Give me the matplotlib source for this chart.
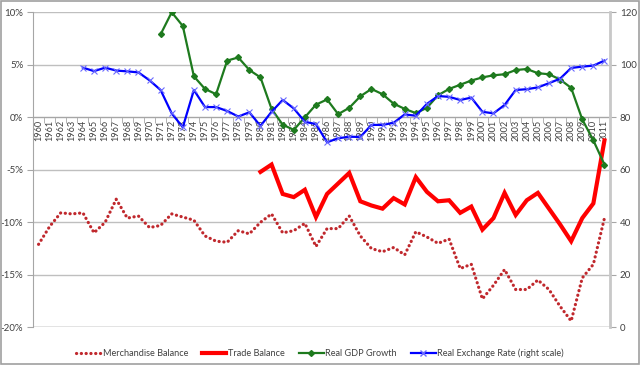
import matplotlib
matplotlib.use("Agg")
import matplotlib.pyplot as plt
from matplotlib.patches import Rectangle
from matplotlib.lines import Line2D
import numpy as np

years = [str(y) for y in range(1960, 2012)]

merch_balance = [-12.1, -10.4, -9.1, -9.2, -9.1, -11.0, -10.0, -7.8, -9.6, -9.4,
                 -10.5, -10.3, -9.2, -9.5, -9.8, -11.3, -11.8, -11.9, -10.8, -11.1,
                 -10.0, -9.2, -11.0, -10.8, -10.1, -12.3, -10.6, -10.6, -9.4, -11.3,
                 -12.5, -12.8, -12.4, -13.1, -10.9, -11.4, -12.0, -11.6, -14.4, -14.0,
                 -17.3, -16.0, -14.5, -16.4, -16.4, -15.5, -16.4, -18.0, -19.4, -15.3,
                 -14.0, -9.6]

trade_years = list(range(1980, 2012))
trade_balance = [-5.2, -4.5, -7.3, -7.6, -6.9, -9.5, -7.3, -6.3, -5.3, -8.0,
                 -8.4, -8.7, -7.7, -8.3, -5.7, -7.1, -8.0, -7.9, -9.1, -8.5,
                 -10.7, -9.6, -7.2, -9.3, -7.9, -7.2, -8.7, -10.2, -11.8, -9.6,
                 -8.2, -2.2]

gdp_years = list(range(1971, 2012))
gdp_growth = [7.9, 10.0, 8.7, 3.9, 2.7, 2.2, 5.4, 5.7, 4.5, 3.8,
              0.8, -0.7, -1.2, 0.0, 1.2, 1.7, 0.3, 0.9, 2.0, 2.7,
              2.2, 1.3, 0.8, 0.4, 0.9, 2.1, 2.7, 3.1, 3.5, 3.8,
              4.0, 4.1, 4.5, 4.6, 4.2, 4.1, 3.6, 2.8, -0.2, -2.2,
              -4.5]

rer_years = list(range(1964, 2012))
rer = [98.9, 97.6, 98.9, 97.8, 97.5, 97.1, 94.1, 90.4, 81.5, 76.2,
       90.4, 83.9, 83.9, 82.4, 80.3, 81.9, 76.7, 82.1, 86.6, 83.4,
       78.3, 77.4, 70.5, 72.0, 72.6, 72.5, 77.1, 77.1, 77.9, 81.1,
       80.6, 85.1, 88.1, 87.8, 86.6, 87.5, 82.1, 81.5, 84.7, 90.4,
       90.7, 91.4, 93.0, 94.7, 98.8, 99.3, 99.7, 101.6]

left_ticks = [-20, -15, -10, -5, 0, 5, 10]
right_ticks = [0, 20, 40, 60, 80, 100, 120]

plt.rcParams['font.family'] = ['Lato', 'DejaVu Sans']
fs = 6.6
grid_c = '#A6A6A6'
txt_c = '#404040'
dots = (0, (0.05, 1.45))

fig = plt.figure(figsize=(6.4, 3.65), dpi=100)
ax = fig.add_axes([33/640, 1-327.3/365, (610-33)/640, (327.3-12.3)/365])
ax2 = ax.twinx()

x_all = np.arange(len(years))
idx = {y: i for i, y in enumerate(range(1960, 2012))}

ax.plot(x_all, merch_balance, color='#C0282D', lw=2.3,
        linestyle=dots, dash_capstyle='round', zorder=3,
        label='Merchandise Balance')
ax.plot([idx[y] for y in trade_years], trade_balance, color='#FF0000', lw=3.0,
        solid_joinstyle='miter', zorder=4, label='Trade Balance')
ax.plot([idx[y] for y in gdp_years], gdp_growth, color='#1E7A1E', lw=1.6,
        marker='D', markersize=3, markerfacecolor='#1E7A1E',
        markeredgecolor='#1E7A1E', zorder=5, label='Real GDP Growth')
ax2.plot([idx[y] for y in rer_years], rer, color='#0000FF', lw=1.6,
         marker='x', markersize=4, markeredgecolor='#6A6AFF', markeredgewidth=0.8,
         zorder=6, label='Real Exchange Rate (right scale)')

ax.set_xlim(-0.5, len(years) - 0.5)
ax.set_ylim(-20, 10)
ax2.set_ylim(0, 120)

ax.set_yticks(left_ticks)
ax.set_yticklabels([f'{t}%' for t in left_ticks], fontsize=fs + 0.4, color=txt_c)
ax2.set_yticks(right_ticks)
ax2.set_yticklabels([str(t) for t in right_ticks], fontsize=fs + 0.4, color=txt_c)

ax.grid(axis='y', color='#BFBFBF', lw=1.0, zorder=0)
ax.set_axisbelow(True)

ax.spines['bottom'].set_position(('data', 0))
ax.spines['bottom'].set_color(grid_c)
ax.spines['top'].set_visible(False)
ax.spines['right'].set_visible(False)
ax.spines['left'].set_color(grid_c)
ax.axhline(-20, color=grid_c, lw=1.0, zorder=1)

ax2.spines['top'].set_visible(False)
ax2.spines['left'].set_visible(False)
ax2.spines['bottom'].set_visible(False)
ax2.spines['right'].set_color('#C8C8C8')
ax2.spines['right'].set_linewidth(2.0)

ax.set_xticks(x_all)
ax.set_xticklabels(years, rotation=90, fontsize=fs, color=txt_c)
ax.tick_params(axis='x', which='major', length=0, pad=2)
ax.set_xticks(np.arange(-0.5, len(years), 1), minor=True)
ax.tick_params(axis='x', which='minor', length=4, color=grid_c, direction='out')
ax.tick_params(axis='y', length=4, color=grid_c, pad=3)
ax2.tick_params(axis='y', length=4, color=grid_c, pad=3)

handles = [
    Line2D([], [], color='#C0282D', lw=2.3, linestyle=dots,
           dash_capstyle='round'),
    Line2D([], [], color='#FF0000', lw=3.0),
    Line2D([], [], color='#1E7A1E', lw=1.6, marker='D', markersize=3),
    Line2D([], [], color='#0000FF', lw=1.6, marker='x', markersize=4,
           markeredgecolor='#6A6AFF'),
]
labels = ['Merchandise Balance', 'Trade Balance', 'Real GDP Growth',
          'Real Exchange Rate (right scale)']
leg = fig.legend(handles, labels, loc='center', ncol=4,
                 bbox_to_anchor=(0.5, 1 - 353/365), frameon=False,
                 fontsize=fs, handlelength=2.7, handletextpad=0.2,
                 columnspacing=1.5)
for t in leg.get_texts():
    t.set_color(txt_c)

fig.patches.append(Rectangle((0.001, 0.002), 0.997, 0.995, transform=fig.transFigure,
                             fill=False, edgecolor='#A0A0A0', lw=1.2))

fig.savefig('out.png', dpi=100)
